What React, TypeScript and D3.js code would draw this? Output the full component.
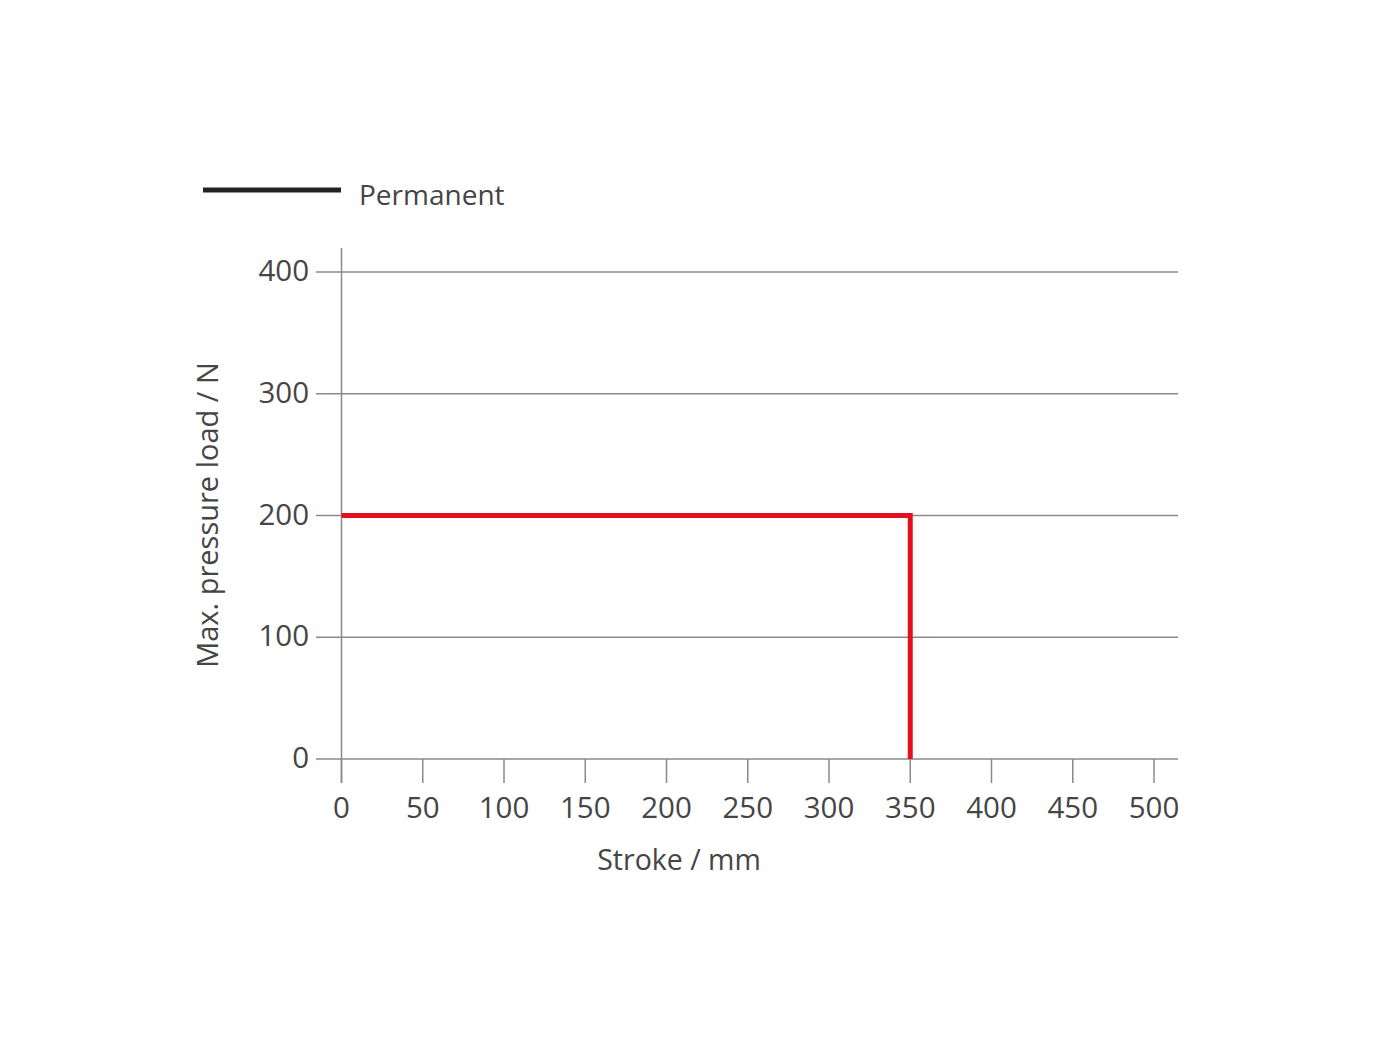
import React from "react";
import * as d3 from "d3";

const strokeValues = [0, 350, 350];
const loadValues = [200, 200, 0];
const xTicks = [0, 50, 100, 150, 200, 250, 300, 350, 400, 450, 500];
const yTicks = [0, 100, 200, 300, 400];
const legendLabel = "Permanent";
const xTitle = "Stroke / mm";
const yTitle = "Max. pressure load / N";

export default function App() {
  const W = 1400, H = 1050;
  const x = d3.scaleLinear().domain([0, 500]).range([341.5, 1154]);
  const y = d3.scaleLinear().domain([0, 400]).range([759, 272]);
  const gridLeft = 316, gridRight = 1178;
  const font = "'Open Sans', sans-serif";
  const textColor = "#454545";
  const gridColor = "#8a8a8a";
  const pts = strokeValues.map((s, i) => [s, loadValues[i]] as [number, number]);
  const line = d3.line<[number, number]>().x(d => x(d[0])).y(d => y(d[1]));

  return (
    <svg width={W} height={H} style={{ position: "absolute", left: 0, top: 0, background: "#fff" }} fontFamily={font}>
      {/* legend */}
      <line x1={203} x2={341} y1={190} y2={190} stroke="#222" strokeWidth={5} />
      <text x={359} y={205} fontSize={28} fill={textColor}>{legendLabel}</text>

      {/* gridlines + y ticks */}
      {yTicks.map(t => (
        <g key={t}>
          <line x1={gridLeft} x2={gridRight} y1={y(t)} y2={y(t)} stroke={gridColor} strokeWidth={1.5} />
          <text x={309} y={y(t) + 9} fontSize={29.5} fill={textColor} textAnchor="end">{t}</text>
        </g>
      ))}
      {/* y axis */}
      <line x1={x(0)} x2={x(0)} y1={248} y2={783} stroke={gridColor} strokeWidth={1.5} />
      {/* x ticks */}
      {xTicks.map(t => (
        <g key={t}>
          <line x1={x(t)} x2={x(t)} y1={y(0)} y2={783} stroke={gridColor} strokeWidth={1.5} />
          <text x={x(t)} y={818} fontSize={29.5} fill={textColor} textAnchor="middle">{t}</text>
        </g>
      ))}
      {/* titles */}
      <text x={679} y={870} fontSize={28.5} fill={textColor} textAnchor="middle">{xTitle}</text>
      <text transform={`translate(218,515) rotate(-90)`} fontSize={29} fill={textColor} textAnchor="middle">{yTitle}</text>

      {/* data */}
      <path d={line(pts) || ""} fill="none" stroke="#e3101f" strokeWidth={5} strokeLinejoin="miter" />
    </svg>
  );
}
